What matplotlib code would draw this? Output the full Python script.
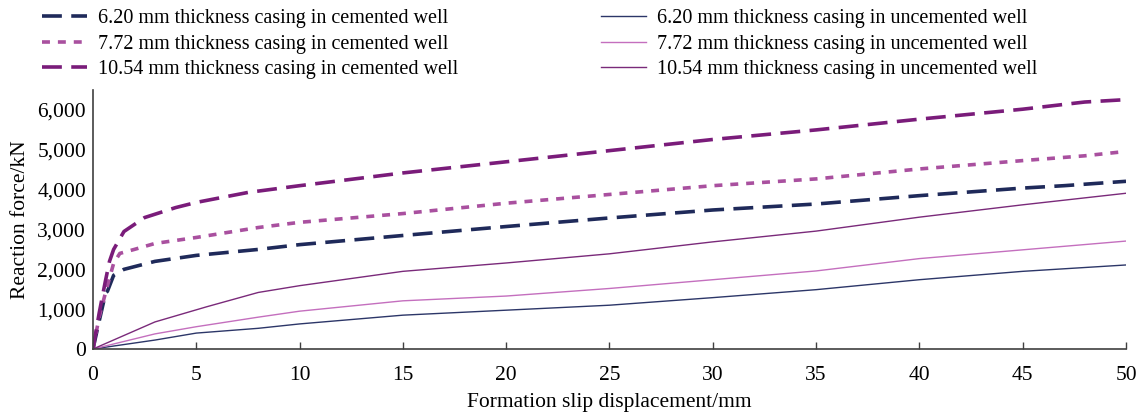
import matplotlib
matplotlib.use("Agg")
import matplotlib.pyplot as plt
from matplotlib.ticker import FuncFormatter

plt.rcParams['font.family'] = ['Liberation Serif', 'DejaVu Serif']

# Data (formation slip displacement in mm, reaction force in kN)
x_c620 = [0, 0.3, 0.5, 0.6, 0.7, 1.0, 1.5, 3, 5, 8, 10, 15, 20, 25, 30, 35, 40, 45, 47, 50]
y_c620 = [0, 700, 1150, 1400, 1450, 1850, 2000, 2200, 2350, 2500, 2620, 2850, 3075, 3290, 3490, 3640, 3850, 4040, 4100, 4210]

x_c772 = [0, 0.3, 0.6, 1.0, 1.3, 2, 3, 5, 8, 10, 15, 20, 25, 30, 35, 40, 45, 48, 50]
y_c772 = [0, 800, 1400, 2150, 2400, 2500, 2650, 2800, 3050, 3180, 3400, 3660, 3880, 4100, 4270, 4520, 4730, 4850, 4960]

x_c1054 = [0, 0.3, 0.6, 0.8, 1.0, 1.5, 2.5, 4, 5, 7.5, 10, 15, 20, 25, 30, 35, 40, 45, 48, 50]
y_c1054 = [0, 900, 1700, 2200, 2500, 2950, 3300, 3550, 3680, 3930, 4100, 4420, 4700, 4980, 5260, 5500, 5770, 6020, 6200, 6260]

x_u620 = [0, 3, 5, 8, 10, 15, 20, 25, 30, 35, 40, 45, 50]
y_u620 = [0, 225, 400, 520, 630, 850, 975, 1100, 1290, 1490, 1740, 1950, 2110]

x_u772 = [0, 3, 5, 8, 10, 15, 20, 25, 30, 35, 40, 45, 50]
y_u772 = [0, 380, 560, 800, 950, 1210, 1330, 1520, 1740, 1960, 2270, 2490, 2710]

x_u1054 = [0, 3, 5.5, 8, 10, 15, 20, 25, 30, 35, 40, 45, 50]
y_u1054 = [0, 680, 1060, 1420, 1590, 1950, 2160, 2390, 2690, 2960, 3310, 3620, 3910]

labels_c = ["6.20 mm thickness casing in cemented well",
            "7.72 mm thickness casing in cemented well",
            "10.54 mm thickness casing in cemented well"]
labels_u = ["6.20 mm thickness casing in uncemented well",
            "7.72 mm thickness casing in uncemented well",
            "10.54 mm thickness casing in uncemented well"]

xticks = [0, 5, 10, 15, 20, 25, 30, 35, 40, 45, 50]
yticks = [0, 1000, 2000, 3000, 4000, 5000, 6000]

fig = plt.figure(figsize=(11.42, 4.17), dpi=100)
ax = fig.add_axes([0.0814, 0.163, 0.9046, 0.621])

c1, c2, c3 = '#1f2a5a', '#a9509f', '#7a1c7a'
u1, u2, u3 = '#2c3668', '#c46fbe', '#7a2a7a'

ax.plot(x_c620, y_c620, color=c1, lw=2.6, dashes=(5.5, 2.6), label=labels_c[0])
ax.plot(x_c772, y_c772, color=c2, lw=2.6, dashes=(2.2, 2.2), label=labels_c[1])
ax.plot(x_c1054, y_c1054, color=c3, lw=2.6, dashes=(5.5, 2.6), label=labels_c[2])
ax.plot(x_u620, y_u620, color=u1, lw=1.0, label=labels_u[0])
ax.plot(x_u772, y_u772, color=u2, lw=1.0, label=labels_u[1])
ax.plot(x_u1054, y_u1054, color=u3, lw=1.0, label=labels_u[2])

ax.set_xlim(0, 50)
ax.set_ylim(0, 6500)
ax.set_xticks(xticks)
ax.set_yticks(yticks)
ax.yaxis.set_major_formatter(FuncFormatter(lambda v, p: f"{int(v):,}"))
for s in ['top', 'right']:
    ax.spines[s].set_visible(False)
for s in ['left', 'bottom']:
    ax.spines[s].set_color('#404040')
    ax.spines[s].set_linewidth(1.2)
ax.tick_params(axis='x', direction='in', length=5, width=1, color='#404040', labelsize=15.5, pad=12)
ax.tick_params(axis='y', length=0, labelsize=15.5, pad=5)
ax.set_xlabel("Formation slip displacement/mm", fontsize=15.5, labelpad=6)
ax.set_ylabel("Reaction force/kN", fontsize=15.5, labelpad=5)

ax.legend(loc='upper left', bbox_to_anchor=(0.021, 1.022), bbox_transform=fig.transFigure,
          ncol=2, frameon=False, fontsize=14.5, handlelength=2.25, handletextpad=0.55,
          columnspacing=7.05, labelspacing=0.32)

fig.savefig("out.png", dpi=100)
